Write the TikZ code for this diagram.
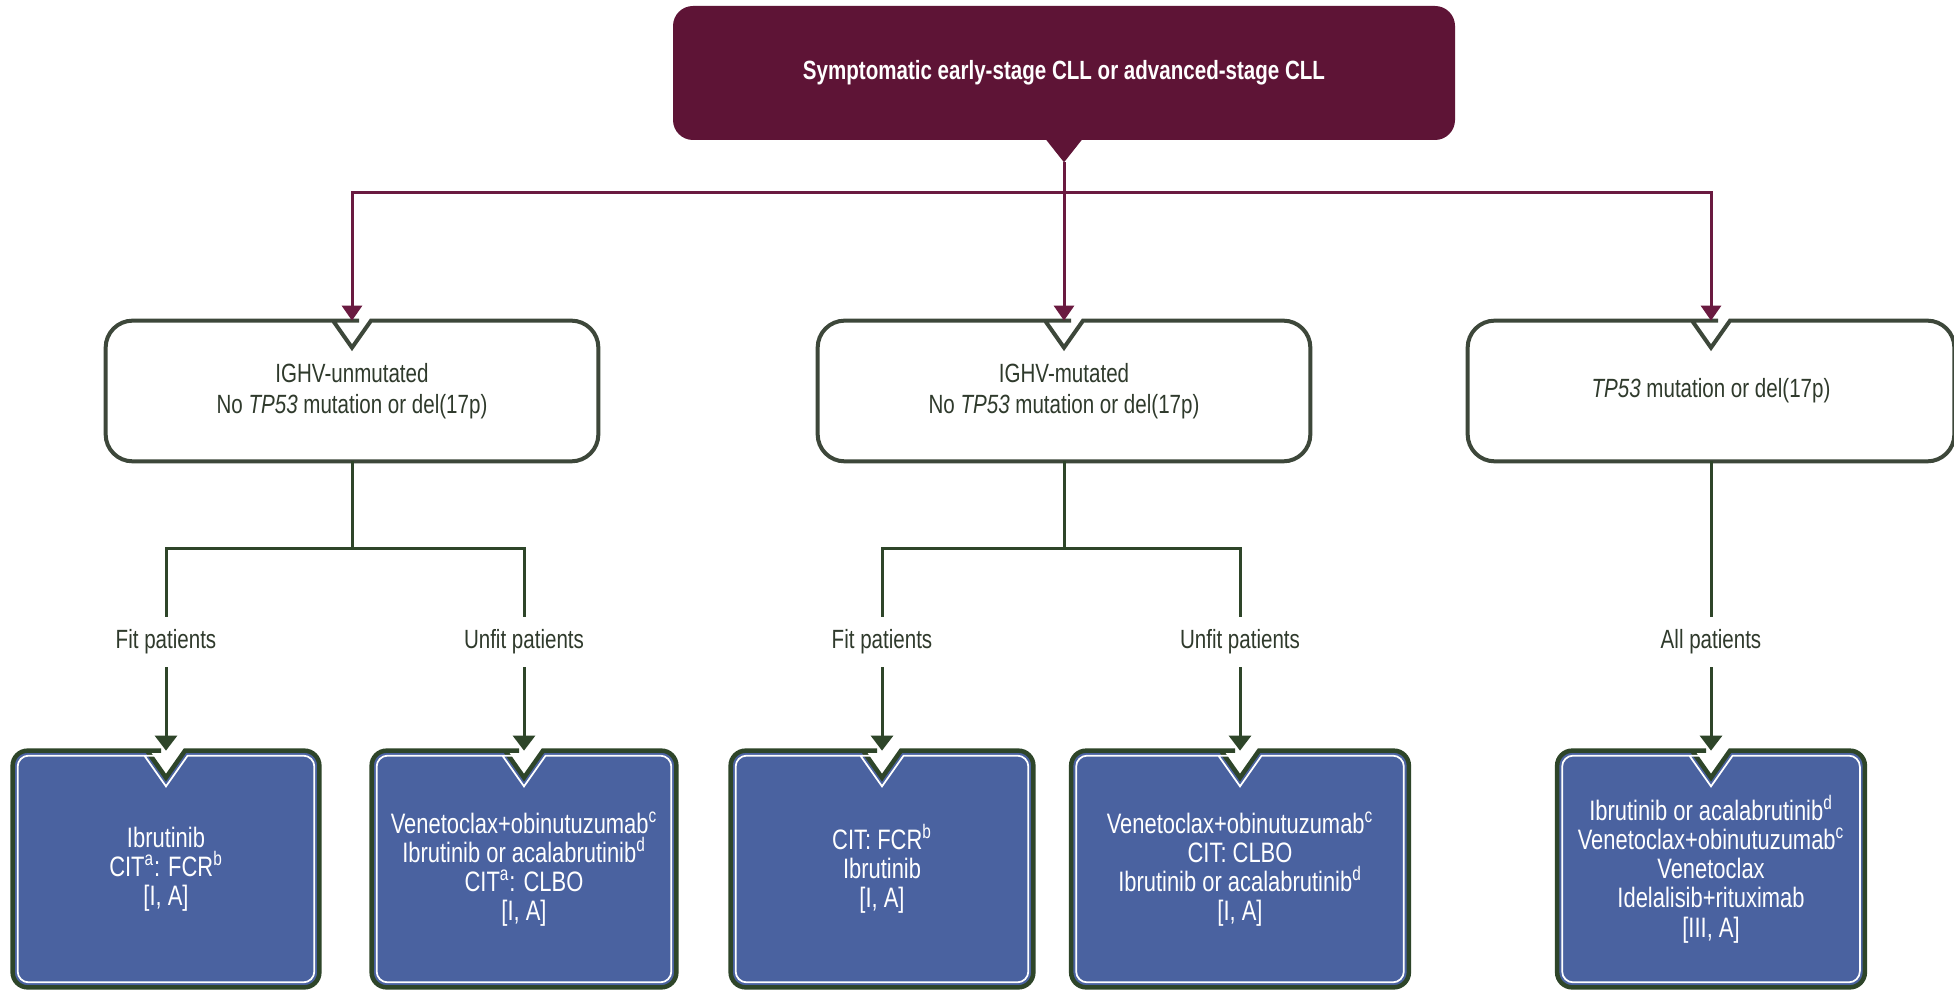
\documentclass[tikz,border=0pt]{standalone}
\usepackage{fontspec}
\setmainfont{Liberation Sans}[FakeStretch=0.78]
\usetikzlibrary{arrows.meta,backgrounds}

\definecolor{topred}{HTML}{5E1436}
\definecolor{linered}{HTML}{6A1A40}
\definecolor{midgray}{HTML}{3D473A}
\definecolor{darkgreen}{HTML}{2E4529}
\definecolor{boxblue}{HTML}{4A62A0}
\definecolor{textgray}{HTML}{2F3A2C}

% box outline with a V cut in the top edge: node, inset, radius, style
\newcommand{\notchbox}[4]{%
  \path[#4] ([shift={(#2,0)}]#1.west)
    [rounded corners=#3] -- ([shift={(#2,#2)}]#1.north west)
    -- ([shift={(-20-0.52*#2,#2)}]#1.north)
    [sharp corners] -- ([shift={(-19-0.52*#2,#2)}]#1.north)
    -- ([shift={(0,27+1.74*#2)}]#1.north)
    -- ([shift={(19+0.52*#2,#2)}]#1.north)
    -- ([shift={(20+0.52*#2,#2)}]#1.north)
    [rounded corners=#3] -- ([shift={(-#2,#2)}]#1.north east)
    -- ([shift={(-#2,-#2)}]#1.south east)
    -- ([shift={(#2,-#2)}]#1.south west)
    -- cycle;}

\begin{document}
\begin{tikzpicture}[x=0.2mm, y=-0.2mm,
    every node/.style={font=\fontsize{15}{17.6}\selectfont},
    topbox/.style={fill=topred, rounded corners=4mm, minimum width=156.4mm, minimum height=26.8mm,
        text=white, font=\fontsize{15}{17}\selectfont\bfseries},
    midbox/.style={minimum width=98.4mm, minimum height=28mm, align=center, text=textgray},
    endbox/.style={minimum height=47.2mm, align=center, text=white, font=\fontsize{16}{16.6}\selectfont},
    lbl/.style={minimum height=10mm, inner sep=0pt, text=textgray},
    mline/.style={linered, line width=0.6mm},
    marrow/.style={mline, -{Triangle[width=4mm,length=3mm]}},
    gline/.style={darkgreen, line width=0.6mm},
    garrow/.style={gline, -{Triangle[width=4.4mm,length=3mm]}},
    midline/.style={draw=midgray, line width=0.8mm},
    endline/.style={fill=boxblue, draw=darkgreen, line width=0.9mm},
    endinner/.style={draw=white, line width=0.35mm}]
    \useasboundingbox (0,0) rectangle (1954,992);

    \node[topbox] (top) at (1064,73) {Symptomatic early-stage CLL or advanced-stage CLL};
    \fill[topred] ([shift={(-19,-2)}]top.south) -- ([shift={(0,22)}]top.south) -- ([shift={(19,-2)}]top.south) -- cycle;
    \coordinate (toptip) at ([shift={(0,22)}]top.south);
    \coordinate (bus) at (1064,193);

    \node[midbox] (m1) at (352,391) {IGHV-unmutated\\No \textit{TP53} mutation or del(17p)};
    \node[midbox] (m2) at (1064,391) {IGHV-mutated\\No \textit{TP53} mutation or del(17p)};
    \node[midbox, minimum width=97.2mm] (m3) at (1711,391) {\textit{TP53} mutation or del(17p)};

    \node[lbl] (fit1) at (166,642) {Fit patients};
    \node[lbl] (unfit1) at (524,642) {Unfit patients};
    \node[lbl] (fit2) at (882,642) {Fit patients};
    \node[lbl] (unfit2) at (1240,642) {Unfit patients};
    \node[lbl] (all3) at (1711,642) {All patients};

    \node[endbox, minimum width=61.2mm] (b1) at (166,869) {Ibrutinib\\CIT\textsuperscript{a}: FCR\textsuperscript{b}\\{[I, A]}};
    \node[endbox, minimum width=60.8mm] (b2) at (524,869) {Venetoclax+obinutuzumab\textsuperscript{c}\\Ibrutinib or acalabrutinib\textsuperscript{d}\\CIT\textsuperscript{a}: CLBO\\{[I, A]}};
    \node[endbox, minimum width=60.4mm] (b3) at (882,869) {CIT: FCR\textsuperscript{b}\\Ibrutinib\\{[I, A]}};
    \node[endbox, minimum width=67.4mm] (b4) at (1240,869) {Venetoclax+obinutuzumab\textsuperscript{c}\\CIT: CLBO\\Ibrutinib or acalabrutinib\textsuperscript{d}\\{[I, A]}};
    \node[endbox, minimum width=61.4mm] (b5) at (1711,869) {Ibrutinib or acalabrutinib\textsuperscript{d}\\Venetoclax+obinutuzumab\textsuperscript{c}\\Venetoclax\\Idelalisib+rituximab\\{[III, A]}};

    \begin{scope}[on background layer]
        \fill[white] (0,0) rectangle (1954,992);
        \foreach \n in {m1,m2,m3} {\notchbox{\n}{0}{5.4mm}{midline}}
        \foreach \n in {b1,b2,b3,b4,b5} {
            \notchbox{\n}{0}{3mm}{endline}
            \notchbox{\n}{5}{2.2mm}{endinner}
        }
    \end{scope}

    \draw[mline] (toptip) -- (bus);
    \draw[marrow] (bus) -| (m1.north);
    \draw[marrow] (bus) -- (m2.north);
    \draw[marrow] (bus) -| (m3.north);

    \draw[gline] (m1.south) -- ++(0,87) coordinate (f1);
    \draw[gline] (f1) -| (fit1.north);
    \draw[gline] (f1) -| (unfit1.north);
    \draw[gline] (m2.south) -- ++(0,87) coordinate (f2);
    \draw[gline] (f2) -| (fit2.north);
    \draw[gline] (f2) -| (unfit2.north);
    \draw[gline] (m3.south) -- (all3.north);

    \draw[garrow] (fit1.south) -- (b1.north);
    \draw[garrow] (unfit1.south) -- (b2.north);
    \draw[garrow] (fit2.south) -- (b3.north);
    \draw[garrow] (unfit2.south) -- (b4.north);
    \draw[garrow] (all3.south) -- (b5.north);
\end{tikzpicture}
\end{document}
